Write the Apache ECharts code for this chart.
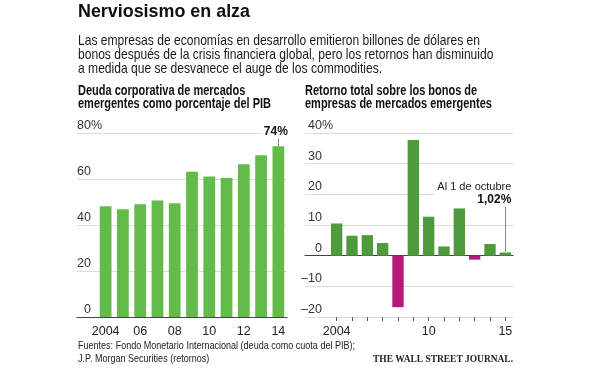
<!DOCTYPE html>
<html><head><meta charset="utf-8">
<script src="https://cdn.jsdelivr.net/npm/echarts@6/dist/echarts.min.js"></script>
<style>html,body{margin:0;padding:0;background:#fff}#c{width:600px;height:370px}</style>
</head><body><div id="c"></div>
<script>
// ---- data ----
const debtYears = ['2004','2005','2006','2007','2008','2009','2010','2011','2012','2013','2014'];
const debtValues = [48.2, 46.8, 49.0, 50.7, 49.5, 63.2, 61.1, 60.4, 66.4, 70.3, 74.2];
const debtTicks = [0, 20, 40, 60, 80];
const returnYears = ['2004','2005','2006','2007','2008','2009','2010','2011','2012','2013','2014','2015'];
const returnValues = [10.5, 6.5, 6.7, 4.1, -16.8, 37.7, 12.7, 3.0, 15.4, -1.3, 3.8, 1.02];
const returnTicks = [-20, -10, 0, 10, 20, 30, 40];
const returnLabelIdx = [0, 6, 11];

const FONT = '"Liberation Sans", Arial, sans-serif';
const GREEN_L = '#63bb4a', GREEN_R = '#4e9b3c', MAGENTA = '#b5177a';
const GRID_C = '#dcdcdc', AXIS_C = '#444';

// --- text helpers (condensed text blocks via horizontal scale) ---
const mctx = document.createElement('canvas').getContext('2d');
function fitScale(str, font, targetW) { mctx.font = font; return targetW / mctx.measureText(str).width; }
function textBlock(lines, x, y0, lh, font, fill, scale) {
  return lines.map((s, i) => ({type: 'text', x: x, y: y0 + i * lh, scaleX: scale, silent: true,
    style: {text: s, font: font, fill: fill, verticalAlign: 'middle', align: 'left'}}));
}
const titleFont = 'bold 18.5px ' + FONT;
const subFont = '14.5px ' + FONT;
const panelFont = 'bold 14px ' + FONT;
const footFont = '11.5px ' + FONT;
const wsjFont = 'bold 10px "Liberation Serif", "DejaVu Serif", serif';
const subLines = ['Las empresas de economías en desarrollo emitieron billones de dólares en',
  'bonos después de la crisis financiera global, pero los retornos han disminuido',
  'a medida que se desvanece el auge de los commodities.'];
const leftPanel = ['Deuda corporativa de mercados', 'emergentes como porcentaje del PIB'];
const rightPanel = ['Retorno total sobre los bonos de', 'empresas de mercados emergentes'];
const footLines = ['Fuentes: Fondo Monetario Internacional (deuda como cuota del PIB);', 'J.P. Morgan Securities (retornos)'];
const wsj = 'THE WALL STREET JOURNAL.';
const sTitle = fitScale('Nerviosismo en alza', titleFont, 172);
const sSub = fitScale(subLines[0], subFont, 402);
const sPanel = fitScale(leftPanel[1], panelFont, 193);
const sFoot = fitScale(footLines[0], footFont, 277);
const sWsj = fitScale(wsj, wsjFont, 140);

function yLab(max) {
  return function (v) { return v === max ? v + '%' : (v < 0 ? '\u2013' + Math.abs(v) : v) + '{t|%}'; };
}

const chart = echarts.init(document.getElementById('c'), null, {renderer: 'canvas'});
const gTop = 133, gBottom = 53;
chart.setOption({
  animation: false,
  textStyle: {fontFamily: FONT},
  graphic: {elements: [].concat(
    textBlock(['Nerviosismo en alza'], 78, 12, 0, titleFont, '#111', sTitle),
    textBlock(subLines, 78, 40.5, 14, subFont, '#1a1a1a', sSub),
    textBlock(leftPanel, 78, 91, 13.5, panelFont, '#111', sPanel),
    textBlock(rightPanel, 305, 91, 13.5, panelFont, '#111', sPanel),
    textBlock(footLines, 78, 346, 13, footFont, '#222', sFoot),
    textBlock([wsj], 373, 359, 0, wsjFont, '#222', sWsj)
  )},
  grid: [
    {left: 77, right: 313, top: gTop, bottom: gBottom},
    {left: 97, right: 313, top: gTop, bottom: gBottom},
    {left: 305, right: 87, top: gTop, bottom: gBottom},
    {left: 329, right: 87, top: gTop, bottom: gBottom}
  ],
  xAxis: [
    {gridIndex: 0, type: 'category', data: [''], axisTick: {show: false}, axisLabel: {show: false},
     axisLine: {show: true, lineStyle: {color: AXIS_C, width: 1.2}}},
    {gridIndex: 1, type: 'category', data: debtYears, axisTick: {show: false}, axisLine: {show: false},
     axisLabel: {interval: 1, margin: 8, fontSize: 12.5, color: '#222', fontFamily: FONT,
       formatter: (v, i) => i === 0 ? v : v.slice(2)}},
    {gridIndex: 2, type: 'category', data: [''], axisTick: {show: false}, axisLabel: {show: false},
     axisLine: {show: true, onZero: true, lineStyle: {color: AXIS_C, width: 1.2}}},
    {gridIndex: 3, type: 'category', data: returnYears, position: 'bottom',
     axisLine: {show: false, onZero: false},
     axisTick: {show: true, alignWithLabel: true, interval: 0, length: 4, lineStyle: {color: '#555'}},
     axisLabel: {interval: (i) => returnLabelIdx.includes(i), margin: 8, fontSize: 12.5, color: '#222', fontFamily: FONT,
       formatter: (v, i) => i === 0 ? v : v.slice(2)}}
  ],
  yAxis: [
    {gridIndex: 0, type: 'value', min: debtTicks[0], max: debtTicks[debtTicks.length - 1], interval: 20,
     axisLine: {show: false}, axisTick: {show: false},
     splitLine: {lineStyle: {color: GRID_C}},
     axisLabel: {inside: true, align: 'right', verticalAlign: 'bottom', margin: 25, fontSize: 12.5, color: '#333',
       padding: [0, 0, 1, 0], formatter: yLab(80), rich: {t: {color: 'rgba(0,0,0,0)', fontSize: 12.5}}}},
    {gridIndex: 1, type: 'value', min: 0, max: 80, show: false},
    {gridIndex: 2, type: 'value', min: returnTicks[0], max: returnTicks[returnTicks.length - 1], interval: 10,
     axisLine: {show: false}, axisTick: {show: false},
     splitLine: {lineStyle: {color: GRID_C}},
     axisLabel: {inside: true, align: 'right', verticalAlign: 'bottom', margin: 28, fontSize: 12.5, color: '#333',
       padding: [0, 0, 1, 0], formatter: yLab(40), rich: {t: {color: 'rgba(0,0,0,0)', fontSize: 12.5}}}},
    {gridIndex: 3, type: 'value', min: -20, max: 40, show: false}
  ],
  series: [
    {type: 'bar', xAxisIndex: 1, yAxisIndex: 1, barCategoryGap: '32%',
     data: debtValues.map((v, i) => i === debtValues.length - 1 ?
       {value: v, label: {show: true, position: 'top', distance: 9, offset: [-3, 0],
         backgroundColor: '#fff', padding: [0, 1, 0, 2],
         formatter: Math.round(v) + '%', fontWeight: 'bold', fontSize: 12, color: '#111', fontFamily: FONT}} : v),
     itemStyle: {color: GREEN_L},
     markLine: {silent: true, symbol: 'none', label: {show: false},
       lineStyle: {color: '#888', width: 1, type: 'solid'},
       data: [[{coord: [debtYears[debtYears.length - 1], debtValues[debtValues.length - 1]]},
               {coord: [debtYears[debtYears.length - 1], 77.6]}]]}},
    {type: 'bar', xAxisIndex: 3, yAxisIndex: 3, barCategoryGap: '26%',
     data: returnValues.map((v, i) => {
       const o = {value: v, itemStyle: {color: v < 0 ? MAGENTA : GREEN_R}};
       if (i === returnValues.length - 1) {
         o.label = {show: true, position: 'top', distance: 45, align: 'right', offset: [8, 0],
           backgroundColor: '#fff', padding: [1, 2, 1, 3],
           formatter: 'Al 1 de octubre\n{b|' + String(v).replace('.', ',') + '%}', fontSize: 11, lineHeight: 13,
           color: '#222', fontFamily: FONT,
           rich: {b: {fontWeight: 'bold', fontSize: 12, color: '#111', fontFamily: FONT, lineHeight: 13}}};
       }
       return o;
     }),
     markLine: {silent: true, symbol: 'none', label: {show: false},
       lineStyle: {color: '#888', width: 1, type: 'solid'},
       data: [[{coord: [returnYears[returnYears.length - 1], 1.3]},
               {coord: [returnYears[returnYears.length - 1], 16]}]]}}
  ]
});
</script></body></html>
